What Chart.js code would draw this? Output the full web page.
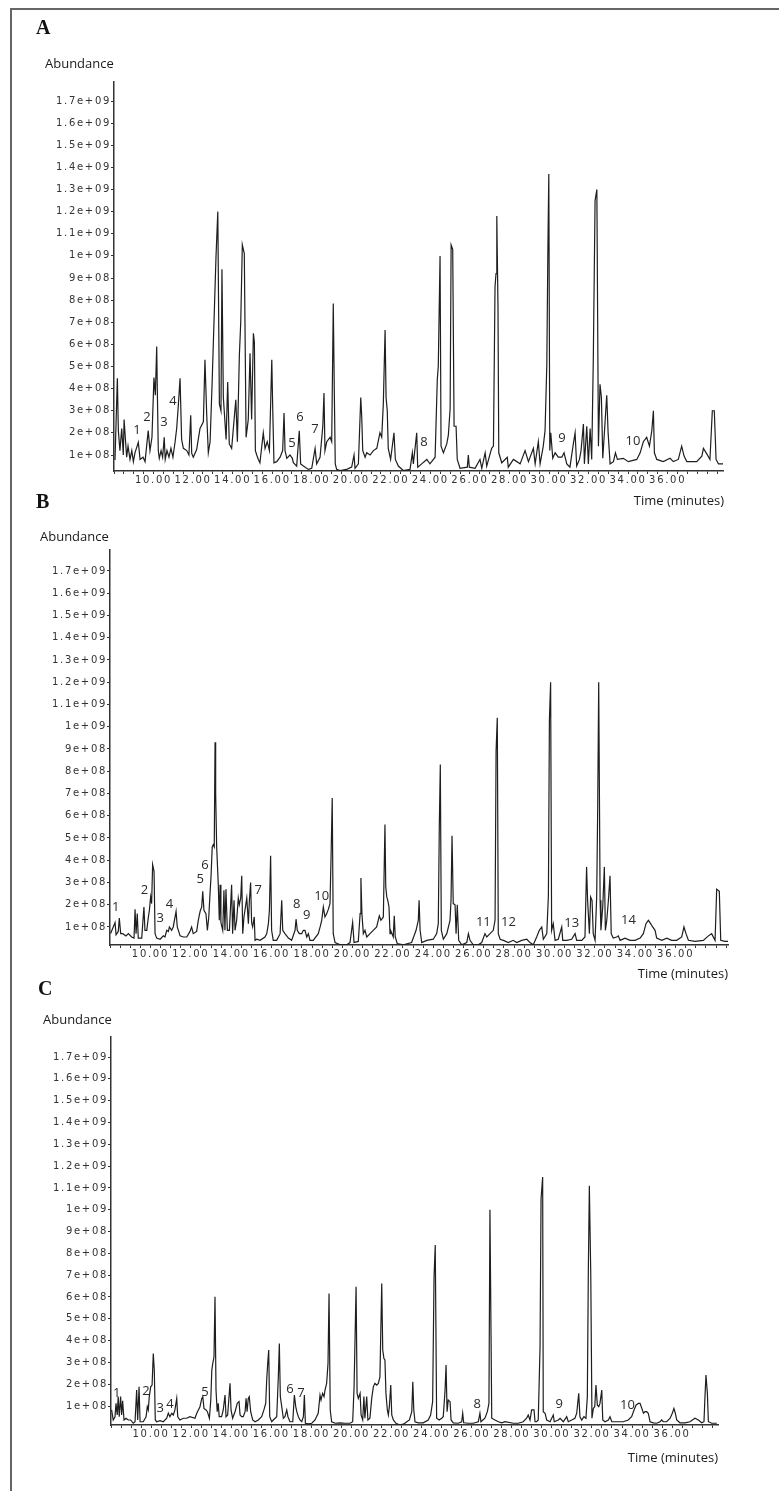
<!DOCTYPE html>
<html>
<head>
<meta charset="utf-8">
<script src="https://cdn.jsdelivr.net/npm/chart.js@4.4.1/dist/chart.umd.min.js"></script>
<style>
body { margin: 0; background: #fff; }
#page { position: relative; width: 779px; height: 1491px; overflow: hidden; background: #fff; }
#frame { position: absolute; left: 10px; top: 8px; width: 820px; height: 1520px; border-left: 2px solid #666; border-top: 2px solid #666; }
canvas { position: absolute; left: 0; }
</style>
</head>
<body>
<div id="page">
  <div id="frame"></div>
  <canvas id="chartA" width="779" height="515" style="top:0px"></canvas>
  <canvas id="chartB" width="779" height="500" style="top:490px"></canvas>
  <canvas id="chartC" width="779" height="516" style="top:975px"></canvas>
</div>
<script>
// abundance values are in units of 1e8, time in minutes

const yTickValues = [1,2,3,4,5,6,7,8,9,10,11,12,13,14,15,16,17];
const xLabelTimes = [10,12,14,16,18,20,22,24,26,28,30,32,34,36];

// --- sample A
const timesA = [8.05,8.17,8.22,8.30,8.39,8.47,8.51,8.64,8.71,8.81,
  8.90,8.98,9.06,9.23,9.32,9.47,9.57,9.73,9.82,9.92,
  10.02,10.09,10.16,10.19,10.24,10.29,10.38,10.46,10.54,10.59,
  10.68,10.78,10.88,10.98,11.09,11.17,11.25,11.34,11.42,11.51,
  11.68,11.79,11.88,11.93,12.01,12.18,12.35,12.52,12.60,12.69,
  12.77,12.86,12.96,13.07,13.16,13.25,13.33,13.41,13.46,13.53,
  13.67,13.75,13.83,13.95,14.16,14.24,14.34,14.41,14.49,14.59,
  14.68,14.79,14.88,14.96,15.05,15.10,15.15,15.22,15.30,15.38,
  15.55,15.64,15.75,15.86,15.98,16.03,16.09,16.23,16.40,16.53,
  16.60,16.65,16.74,16.90,17.02,17.07,17.24,17.37,17.44,17.58,
  17.83,18.00,18.17,18.25,18.42,18.56,18.62,18.67,18.76,18.93,
  19.01,19.09,19.14,19.19,19.26,19.43,19.77,20.02,20.14,20.19,
  20.36,20.48,20.53,20.58,20.70,20.78,20.95,21.12,21.29,21.45,
  21.54,21.62,21.71,21.76,21.82,21.87,21.99,22.16,22.23,22.38,
  22.63,22.97,23.09,23.14,23.31,23.36,23.56,23.82,23.98,24.24,
  24.35,24.40,24.49,24.54,24.66,24.83,24.91,25.00,25.05,25.13,
  25.20,25.30,25.36,25.50,25.87,25.92,25.97,26.26,26.51,26.60,
  26.77,26.85,27.10,27.19,27.27,27.32,27.36,27.42,27.46,27.61,
  27.89,27.94,28.20,28.54,28.79,28.96,29.21,29.30,29.46,29.55,
  29.71,29.80,29.89,29.94,29.99,30.04,30.09,30.19,30.31,30.47,
  30.65,30.76,30.90,31.06,31.23,31.32,31.40,31.54,31.62,31.74,
  31.79,31.91,31.99,32.08,32.16,32.24,32.33,32.42,32.50,32.58,
  32.65,32.72,32.92,32.99,33.09,33.26,33.36,33.46,33.76,34.01,
  34.44,34.61,34.77,34.94,35.08,35.20,35.28,35.33,35.45,35.78,
  36.12,36.29,36.54,36.71,36.83,36.97,37.47,37.73,37.81,37.98,
  38.14,38.26,38.36,38.45,38.57,38.80];
const abundA = [0.77,4.47,2.1,1.2,2.2,1.0,2.6,0.9,1.4,0.8,
  1.2,0.7,1.1,1.57,0.8,0.9,0.7,2.1,1.2,1.8,
  4.5,3.7,5.9,4.0,1.2,0.85,1.2,0.9,1.8,0.8,
  1.2,0.9,1.3,0.9,1.6,2.2,3.2,4.47,1.7,1.3,
  1.2,1.0,2.8,1.07,0.9,1.25,2.2,2.5,5.3,2.8,
  1.1,1.6,4.2,7.4,10.0,12.0,3.3,3.0,9.4,3.6,
  1.7,4.3,1.5,1.3,3.5,1.6,5.5,7.0,10.5,10.1,
  1.8,2.6,5.6,2.6,6.5,6.1,1.2,1.0,0.8,0.65,
  2.0,1.3,1.6,1.2,5.3,3.0,0.65,0.7,0.9,1.2,
  2.9,1.2,0.85,1.0,0.85,0.65,0.5,2.1,0.6,0.5,
  0.35,0.4,1.3,0.6,0.9,2.3,3.8,1.2,1.6,1.8,
  1.6,7.85,4.0,0.6,0.35,0.3,0.35,0.45,1.0,0.4,
  0.6,3.6,2.7,1.2,0.9,1.1,1.0,1.2,1.3,2.0,
  1.8,3.3,6.65,3.6,3.0,1.3,0.8,2.0,0.8,0.5,
  0.3,0.35,1.1,0.6,2.0,0.45,0.6,0.8,0.6,0.9,
  4.4,5.0,10.0,1.4,1.1,1.5,1.9,3.1,10.5,10.3,
  2.3,2.3,0.8,0.4,0.45,1.0,0.45,0.4,0.8,0.4,
  1.1,0.5,1.3,1.4,8.6,9.2,11.8,7.7,1.1,0.65,
  0.9,0.45,0.8,0.6,1.2,0.7,1.3,0.6,1.6,0.6,
  1.4,2.1,5.1,10.0,13.7,1.2,2.0,0.85,1.1,0.9,
  0.9,1.1,0.6,0.45,1.5,2.0,0.5,0.8,1.2,2.4,
  0.6,2.3,0.6,2.2,0.8,5.3,12.5,13.0,1.4,4.2,
  3.6,0.85,3.7,2.0,0.6,0.7,1.1,0.8,0.85,0.7,
  0.8,1.1,1.6,1.8,1.4,2.1,3.0,1.1,0.8,0.7,
  0.85,0.7,0.8,1.4,0.95,0.7,0.7,0.95,1.3,1.05,
  0.8,3.0,3.0,0.8,0.6,0.6];
const peakNamesA = ['1','2','3','4','5','6','7','8','9','10'];
const peakTimesA = [9.16,9.67,10.53,10.98,17.0,17.41,18.17,23.68,30.66,34.25];
const peakLevelsA = [2.13,2.72,2.49,3.44,1.54,2.72,2.18,1.59,1.77,1.63];

// --- sample B
const timesB = [8.03,8.25,8.30,8.41,8.46,8.53,8.63,8.79,8.91,9.07,
  9.19,9.24,9.29,9.35,9.40,9.57,9.68,9.73,9.82,9.90,
  9.95,10.01,10.06,10.11,10.18,10.23,10.31,10.48,10.64,10.72,
  10.81,10.89,10.94,11.05,11.13,11.27,11.33,11.47,11.63,11.80,
  11.96,12.04,12.12,12.29,12.37,12.46,12.54,12.59,12.65,12.75,
  12.82,12.89,12.95,13.00,13.06,13.11,13.16,13.20,13.23,13.28,
  13.36,13.41,13.45,13.49,13.58,13.64,13.69,13.74,13.81,13.91,
  14.02,14.07,14.14,14.19,14.27,14.35,14.40,14.47,14.52,14.57,
  14.63,14.77,14.85,14.90,14.96,15.01,15.06,15.14,15.18,15.26,
  15.43,15.67,15.76,15.84,15.89,15.95,16.00,16.08,16.25,16.42,
  16.50,16.55,16.66,16.83,16.99,17.16,17.21,17.27,17.37,17.49,
  17.57,17.65,17.74,17.82,17.90,18.06,18.31,18.40,18.48,18.56,
  18.64,18.73,18.81,18.89,18.95,19.00,19.05,19.14,19.39,19.72,
  19.88,20.01,20.08,20.29,20.38,20.42,20.47,20.54,20.62,20.71,
  20.87,21.03,21.20,21.33,21.41,21.53,21.61,21.65,21.70,21.75,
  21.81,21.86,21.89,22.02,22.07,22.12,22.22,22.52,22.93,23.15,
  23.26,23.30,23.35,23.43,23.68,24.00,24.17,24.25,24.30,24.35,
  24.40,24.50,24.67,24.83,24.88,24.93,24.99,25.08,25.13,25.19,
  25.26,25.41,25.66,25.74,25.82,25.98,26.23,26.40,26.56,26.65,
  26.81,26.97,27.06,27.11,27.17,27.22,27.31,27.47,27.72,27.96,
  28.13,28.38,28.63,28.79,28.95,29.12,29.25,29.37,29.45,29.62,
  29.70,29.75,29.81,29.86,29.94,30.03,30.19,30.36,30.41,30.61,
  30.85,31.02,31.10,31.35,31.51,31.59,31.64,31.73,31.79,31.86,
  31.92,32.01,32.09,32.14,32.19,32.26,32.30,32.39,32.47,32.52,
  32.59,32.67,32.75,32.81,32.91,33.08,33.16,33.25,33.49,33.74,
  33.99,34.24,34.40,34.53,34.65,34.76,34.86,34.98,35.06,35.31,
  35.56,35.80,36.05,36.30,36.41,36.51,36.63,36.96,37.37,37.62,
  37.78,37.95,38.03,38.16,38.23,38.44,38.59];
const abundB = [0.71,1.2,0.65,0.8,1.4,0.7,0.7,0.6,0.7,0.55,
  0.5,1.8,0.7,1.6,0.5,0.5,1.9,0.85,0.85,1.45,
  1.75,2.35,2.05,3.8,3.5,0.7,0.5,0.45,0.6,0.55,
  0.85,0.8,1.0,0.85,1.0,1.7,1.0,0.6,0.55,0.55,
  0.8,1.0,0.7,0.8,1.3,1.7,1.9,2.6,1.75,1.6,
  0.85,1.45,2.5,3.25,4.6,4.7,4.6,9.3,7.0,4.6,
  2.9,1.3,2.9,1.2,0.85,2.65,0.85,2.7,0.85,0.85,
  2.9,0.7,2.2,0.85,1.3,2.3,2.0,2.3,3.3,0.7,
  1.45,2.3,1.15,2.2,3.0,1.2,1.0,1.45,0.4,0.45,
  0.4,0.55,0.7,1.15,1.75,4.2,0.85,0.4,0.4,0.7,
  2.2,0.85,0.7,0.5,0.4,0.85,1.35,0.85,0.7,0.7,
  0.85,0.85,0.55,0.7,0.4,0.4,0.7,1.0,1.3,1.9,
  1.45,1.6,1.8,2.05,4.5,6.8,0.7,0.3,0.2,0.2,
  0.3,1.2,0.3,0.35,1.6,3.2,1.6,0.7,0.85,0.55,
  0.7,0.85,1.0,1.5,1.3,1.45,5.6,2.8,2.35,2.2,
  1.9,0.7,0.85,0.55,1.5,0.55,0.25,0.2,0.3,0.85,
  1.3,2.2,0.85,0.3,0.4,0.45,0.7,1.15,5.5,8.3,
  0.85,0.45,0.7,1.3,2.2,5.1,2.05,2.0,0.7,2.0,
  0.4,0.2,0.3,0.7,0.4,0.2,0.2,0.3,0.7,0.55,
  0.7,0.85,1.3,8.9,10.4,0.7,0.45,0.4,0.3,0.4,
  0.3,0.4,0.45,0.3,0.2,0.55,0.85,1.0,0.45,0.7,
  2.4,10.3,12.0,0.85,1.15,0.4,0.45,1.0,0.4,0.4,
  0.45,0.7,0.4,0.4,0.55,3.7,2.2,0.7,2.35,2.2,
  0.7,0.4,2.35,6.3,12.0,2.2,0.85,1.9,3.7,0.85,
  1.3,2.2,3.3,0.7,0.5,0.55,0.6,0.4,0.5,0.4,
  0.4,0.5,0.7,1.15,1.3,1.15,1.0,0.85,0.5,0.4,
  0.5,0.4,0.4,0.55,1.0,0.7,0.4,0.35,0.4,0.6,
  0.7,0.4,2.7,2.6,0.4,0.35,0.35];
const peakNamesB = ['1','2','3','4','5','6','7','8','9','10','11','12','13','14'];
const peakTimesB = [8.28,9.70,10.48,10.94,12.46,12.70,15.34,17.24,17.74,18.48,26.48,27.72,30.85,33.66];
const peakLevelsB = [1.89,2.63,1.39,2.03,3.16,3.76,2.66,2.03,1.54,2.36,1.21,1.21,1.17,1.28];

// --- sample C
const timesC = [8.03,8.11,8.20,8.25,8.31,8.36,8.41,8.48,8.53,8.58,
  8.65,8.75,8.86,8.98,9.11,9.20,9.28,9.33,9.40,9.45,
  9.61,9.75,9.81,9.86,9.91,9.98,10.05,10.11,10.16,10.21,
  10.28,10.45,10.61,10.78,10.86,10.94,11.03,11.11,11.19,11.28,
  11.33,11.44,11.61,11.78,11.94,12.19,12.28,12.36,12.44,12.53,
  12.58,12.64,12.74,12.81,12.91,12.98,13.03,13.08,13.14,13.19,
  13.24,13.30,13.35,13.40,13.52,13.60,13.69,13.74,13.82,13.94,
  13.99,14.07,14.19,14.30,14.39,14.44,14.52,14.60,14.69,14.74,
  14.79,14.85,14.90,14.97,15.07,15.19,15.35,15.52,15.63,15.72,
  15.77,15.82,15.87,15.92,16.02,16.10,16.27,16.35,16.40,16.45,
  16.52,16.60,16.68,16.77,16.83,16.93,17.07,17.15,17.22,17.27,
  17.35,17.43,17.52,17.60,17.65,17.70,17.85,18.02,18.18,18.34,
  18.43,18.48,18.56,18.63,18.68,18.76,18.83,18.88,18.94,19.01,
  19.18,19.43,19.68,19.93,20.06,20.13,20.23,20.28,20.34,20.43,
  20.48,20.56,20.62,20.67,20.76,20.82,20.92,21.01,21.09,21.17,
  21.26,21.34,21.42,21.51,21.56,21.62,21.67,21.72,21.79,21.84,
  21.89,21.96,22.01,22.09,22.22,22.42,22.62,22.76,22.89,23.01,
  23.06,23.11,23.17,23.33,23.58,23.83,23.95,24.05,24.12,24.18,
  24.25,24.38,24.50,24.58,24.67,24.72,24.77,24.83,24.92,24.97,
  25.08,25.33,25.50,25.55,25.60,25.83,26.08,26.33,26.41,26.46,
  26.66,26.78,26.86,26.91,27.00,27.16,27.33,27.50,27.66,28.08,
  28.32,28.57,28.74,28.82,28.91,28.99,29.11,29.16,29.24,29.32,
  29.41,29.46,29.54,29.57,29.66,29.74,29.91,30.07,30.12,30.32,
  30.41,30.57,30.74,30.82,30.99,31.15,31.24,31.34,31.40,31.49,
  31.60,31.70,31.77,31.82,31.87,31.94,32.00,32.07,32.14,32.20,
  32.27,32.34,32.40,32.49,32.54,32.65,32.82,32.90,32.99,33.23,
  33.56,33.81,33.98,34.10,34.20,34.31,34.40,34.49,34.57,34.65,
  34.73,34.81,34.90,35.06,35.23,35.40,35.48,35.56,35.73,35.90,
  36.01,36.09,36.16,36.23,36.39,36.64,36.89,37.14,37.31,37.48,
  37.59,37.64,37.69,37.76,37.81,37.98,38.23];
const abundC = [0.82,0.36,0.51,1.12,0.59,1.43,0.51,1.43,0.59,1.24,
  0.36,0.44,0.36,0.36,0.21,0.28,1.73,0.36,1.88,0.28,
  0.28,0.51,0.97,0.82,1.43,1.88,1.96,3.41,2.65,0.36,
  0.28,0.33,0.28,0.44,0.67,0.51,0.67,0.59,0.82,1.35,
  0.51,0.36,0.44,0.44,0.51,0.44,0.67,0.82,0.97,1.35,
  1.43,0.89,0.82,0.74,0.44,1.28,2.65,2.96,3.26,6.01,
  1.73,0.74,1.12,0.51,0.51,0.82,1.50,0.51,0.59,2.04,
  0.82,0.44,0.74,1.12,1.20,0.59,0.51,0.51,0.74,1.35,
  0.74,1.35,1.43,0.74,0.36,0.28,0.36,0.51,0.82,1.12,
  2.19,2.96,3.57,0.51,0.28,0.36,0.51,2.34,3.87,1.43,
  0.97,0.44,0.51,0.82,0.51,0.28,0.28,1.50,0.97,0.74,
  0.51,0.36,0.28,0.51,1.50,0.21,0.18,0.21,0.36,0.67,
  1.50,1.28,1.58,1.43,1.73,2.04,2.96,6.16,0.82,0.28,
  0.21,0.23,0.21,0.21,0.28,1.88,6.47,1.58,1.35,1.58,
  0.59,0.36,1.43,0.44,1.43,0.36,0.44,1.35,1.88,2.04,
  1.96,2.04,2.34,6.62,3.57,3.18,3.11,1.58,0.82,0.59,
  0.97,1.96,0.59,0.36,0.21,0.13,0.18,0.28,0.36,0.74,
  2.11,0.82,0.28,0.23,0.23,0.36,0.59,1.20,6.93,8.38,
  0.44,0.36,0.44,0.51,1.73,2.88,0.74,1.28,1.20,0.36,
  0.23,0.21,0.28,0.67,0.23,0.21,0.21,0.28,0.67,0.28,
  0.44,0.74,1.12,10.0,0.44,0.36,0.28,0.23,0.28,0.21,
  0.21,0.28,0.44,0.59,0.36,0.82,0.82,0.28,0.28,0.36,
  3.72,10.5,11.5,0.74,0.67,0.36,0.28,0.59,0.28,0.36,
  0.44,0.28,0.51,0.28,0.36,0.44,0.67,1.58,0.51,0.36,
  0.51,0.44,1.43,7.24,11.1,7.1,0.44,0.89,0.97,1.96,
  1.04,0.97,1.12,1.73,0.36,0.28,0.36,0.51,0.28,0.28,
  0.28,0.36,0.51,0.82,1.04,1.12,1.12,0.89,0.67,0.74,
  0.74,0.67,0.28,0.23,0.21,0.28,0.36,0.28,0.28,0.44,
  0.67,0.89,0.67,0.36,0.23,0.23,0.28,0.44,0.36,0.23,
  0.28,1.43,2.42,1.58,0.28,0.21,0.21];
const peakNamesC = ['1','2','3','4','5','6','7','8','9','10'];
const peakTimesC = [8.28,9.75,10.45,10.94,12.69,16.93,17.48,26.28,30.37,33.77];
const peakLevelsC = [1.58,1.66,0.89,1.09,1.63,1.77,1.58,1.09,1.09,1.05];

function yLabel(v){
    if (v < 10) return v + 'e+08';
    return (v / 10) + 'e+09';
}

function xLabel(v){
    for (let t of xLabelTimes)
        if (Math.abs(v - t) < 1e-6) return t.toFixed(2);
    return '';
}

// panel letter, axis caption and peak numbers
const panelText = {
    id: 'panelText',
    beforeDraw(chart){
        chart.ctx.letterSpacing = '1.7px';
    },
    afterDraw(chart, args, opts){
        const ctx = chart.ctx;
        const xs = chart.scales.x, ys = chart.scales.y;
        ctx.save();
        ctx.letterSpacing = '0px';
        ctx.textBaseline = 'middle';
        ctx.fillStyle = '#111';
        ctx.textAlign = 'left';
        ctx.font = 'bold 20px "Liberation Serif"';
        ctx.fillText(opts.letter, opts.letterX, opts.letterY);
        ctx.fillStyle = '#1a1a1a';
        ctx.font = '13px "Open Sans"';
        ctx.fillText('Abundance', opts.captionX, opts.captionY);
        ctx.textAlign = 'right';
        ctx.fillText('Time (minutes)', opts.timeX, opts.timeY);
        ctx.textAlign = 'center';
        ctx.fillStyle = '#2a2a2a';
        for (let i = 0; i < opts.names.length; i++) {
            ctx.fillText(opts.names[i], xs.getPixelForValue(opts.times[i]), ys.getPixelForValue(opts.levels[i]));
        }
        ctx.restore();
    }
};

function drawChromatogram(id, p){
    const points = p.times.map((t, i) => ({x: t, y: p.values[i]}));
    const tickFont = {family: '"DejaVu Sans"', size: 10};
    const xTicks = [];
    for (let k = 16; k <= p.xMax * 2; k++) xTicks.push(k / 2);

    new Chart(document.getElementById(id), {
        type: 'line',
        data: {
            datasets: [{
                data: points,
                borderColor: '#1e1e1e',
                borderWidth: 1.2,
                pointRadius: 0,
                tension: 0,
                fill: false
            }]
        },
        options: {
            responsive: false,
            animation: false,
            events: [],
            layout: {padding: p.padding},
            plugins: {
                legend: {display: false},
                tooltip: {enabled: false},
                panelText: p.text
            },
            scales: {
                x: {
                    type: 'linear',
                    min: p.xMin,
                    max: p.xMax,
                    afterFit: s => { s.height = p.xHeight; },
                    afterBuildTicks: s => { s.ticks = xTicks.filter(v => v >= p.xMin && v <= p.xMax).map(v => ({value: v})); },
                    grid: {drawOnChartArea: false, drawTicks: true, tickLength: 3, color: '#333', lineWidth: 1},
                    border: {display: true, color: '#333', width: 1.5},
                    ticks: {autoSkip: false, maxRotation: 0, padding: 0, color: '#333', font: tickFont, callback: v => xLabel(v)}
                },
                y: {
                    min: p.yMin,
                    max: p.yMax,
                    afterFit: s => { s.width = p.yWidth; },
                    afterBuildTicks: s => { s.ticks = yTickValues.map(v => ({value: v})); },
                    grid: {drawOnChartArea: false, drawTicks: true, tickLength: 3, color: '#333', lineWidth: 1},
                    border: {display: true, color: '#333', width: 1.5},
                    ticks: {autoSkip: false, padding: 0, color: '#333', font: tickFont, callback: v => yLabel(v)}
                }
            }
        },
        plugins: [panelText]
    });
}

drawChromatogram('chartA', {
    times: timesA, values: abundA,
    xMin: 8.0, xMax: 38.80, yMin: 0.277, yMax: 17.86,
    padding: {top: 82, left: 0, right: 56, bottom: 6}, yWidth: 114, xHeight: 38,
    text: {letter: 'A', letterX: 36, letterY: 29, captionX: 45, captionY: 64, timeX: 724, timeY: 501,
           names: peakNamesA, times: peakTimesA, levels: peakLevelsA}
});

drawChromatogram('chartB', {
    times: timesB, values: abundB,
    xMin: 8.0, xMax: 38.59, yMin: 0.19, yMax: 17.94,
    padding: {top: 60, left: 0, right: 51, bottom: 8}, yWidth: 110, xHeight: 37,
    text: {letter: 'B', letterX: 36, letterY: 13, captionX: 40, captionY: 47, timeX: 728, timeY: 484,
           names: peakNamesB, times: peakTimesB, levels: peakLevelsB}
});

drawChromatogram('chartC', {
    times: timesC, values: abundC,
    xMin: 8.0, xMax: 38.29, yMin: 0.13, yMax: 17.92,
    padding: {top: 62, left: 0, right: 61, bottom: 25}, yWidth: 111, xHeight: 41,
    text: {letter: 'C', letterX: 38, letterY: 15, captionX: 43, captionY: 45, timeX: 718, timeY: 483,
           names: peakNamesC, times: peakTimesC, levels: peakLevelsC}
});
</script>
</body>
</html>
